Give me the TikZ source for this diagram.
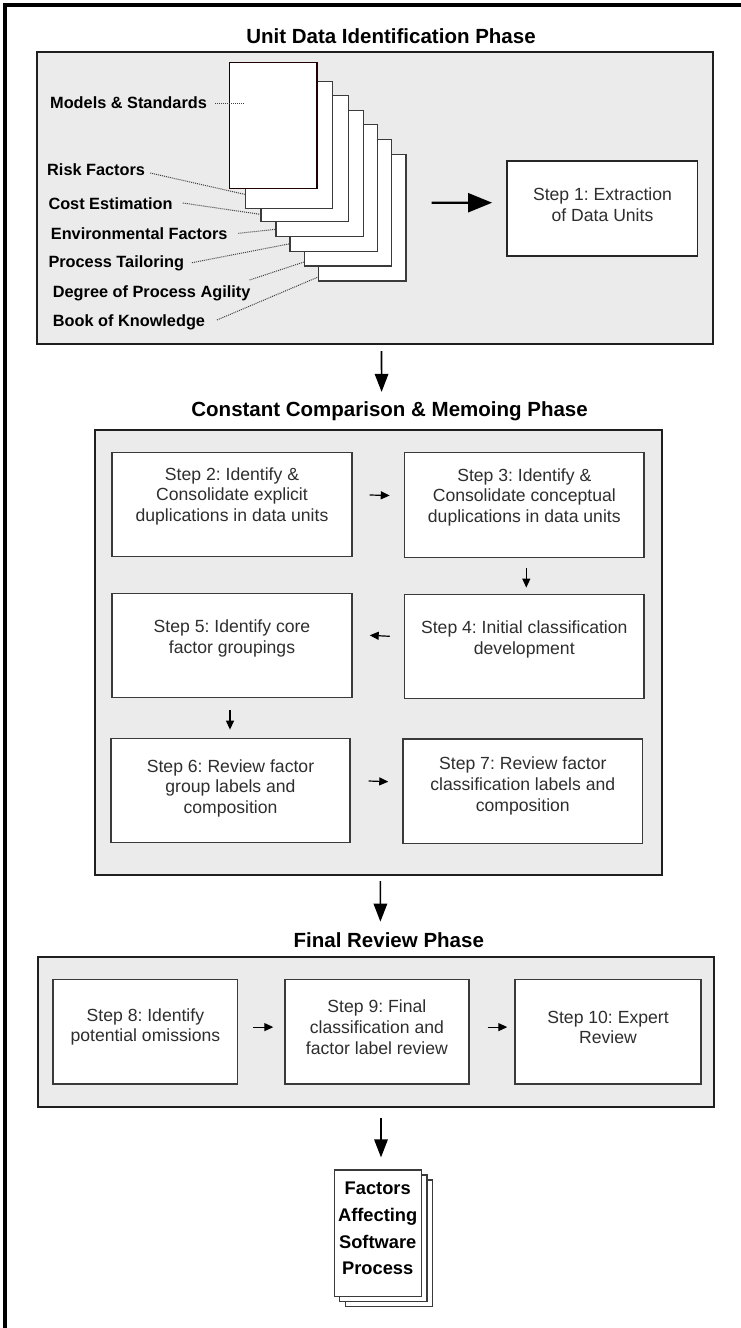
\documentclass[tikz,border=0pt]{standalone}
\usepackage{fontspec}
\setmainfont{Liberation Sans}
\usetikzlibrary{arrows.meta}
\definecolor{phasegray}{HTML}{EBEBEB}
\definecolor{boxline}{HTML}{3A3A3A}
\definecolor{steptext}{HTML}{2E2E2E}
\frenchspacing
\begin{document}
\begin{tikzpicture}[x=1pt,y=-1pt,
  phasebox/.style={draw=black!88, line width=2pt, fill=phasegray, inner sep=0pt},
  stepbox/.style={draw=boxline, line width=1.4pt, fill=white, inner sep=0pt},
  steptxt/.style={text=steptext, font=\fontsize{17.6}{20.8}\selectfont, align=center, inner sep=0pt},
  phasetitle/.style={font=\bfseries\fontsize{20.5}{24}\selectfont, inner sep=0pt},
  srclabel/.style={font=\bfseries\fontsize{16.3}{19}\selectfont, anchor=base west, inner sep=0pt},
  page/.style={draw=boxline, line width=1.2pt, fill=white, inner sep=0pt, minimum width=87.5pt, minimum height=126.5pt},
  leader/.style={draw=black!75, line width=1pt, densely dotted},
  bigarrow/.style={line width=1.6pt, -{Triangle[length=18pt,width=13.5pt]}},
  widearrow/.style={line width=2.2pt, -{Triangle[length=24pt,width=19pt]}},
  smallarrow/.style={line width=1.2pt, -{Triangle[length=9pt,width=8pt]}},
]
\useasboundingbox (0,0) rectangle (741,1328);
\fill[white] (0,0) rectangle (741,1328);
% outer frame (top and left edges)
\draw[line width=4pt] (5,1332) -- (5,4.7) -- (745,4.7);

% ---------- Phase 1 ----------
\node[phasetitle] (t1) at (391,36) {Unit Data Identification Phase};
\node[phasebox, minimum width=676pt, minimum height=292pt] (ph1) at (375,198) {};

% stacked pages (back to front)
\node[page] (p7) at (362.25,217.75) {};
\node[page] (p6) at (348,202.75) {};
\node[page] (p5) at (333.75,188) {};
\node[page] (p4) at (319.75,173.5) {};
\node[page] (p3) at (304.75,158.5) {};
\node[page] (p2) at (289,145) {};
\node[page, draw=black!80!red!60!black] (p1) at (273.25,125.5) {};

% source labels
\node[srclabel] (lm) at (50,108.7) {Models \& Standards};
\node[srclabel] (lr) at (47,175.7) {Risk Factors};
\node[srclabel] (lc) at (48.3,209) {Cost Estimation};
\node[srclabel] (le) at (50.7,239.7) {Environmental Factors};
\node[srclabel] (lp) at (48.3,267.2) {Process Tailoring};
\node[srclabel] (ld) at (52.7,297.7) {Degree of Process Agility};
\node[srclabel] (lb) at (52.7,326.7) {Book of Knowledge};

% leaders
\draw[leader] ([xshift=8pt,yshift=5.7pt]lm.base east) -- ([xshift=15.5pt,yshift=22.5pt]p1.west);
\draw[leader] ([xshift=5pt,yshift=2.7pt]lr.base east) -- ([yshift=14.5pt]p2.south west);
\draw[leader] ([xshift=10pt,yshift=6pt]lc.base east) -- ([yshift=8pt]p3.south west);
\draw[leader] ([xshift=10.7pt,yshift=6.4pt]le.base east) -- ([yshift=8pt]p4.south west);
\draw[leader] ([xshift=7.7pt,yshift=4.5pt]lp.base east) -- ([yshift=8pt]p5.south west);
\draw[leader] ([xshift=-1pt,yshift=17.7pt]ld.base east) -- ([yshift=4.5pt]p6.south west);
\draw[leader] ([xshift=11.7pt,yshift=6.7pt]lb.base east) -- ([yshift=4.5pt]p7.south west);

% step 1
\node[stepbox, draw=black!85, line width=1.8pt, minimum width=190.5pt, minimum height=95.3pt] (s1) at (602.25,208.35) {};
\node[steptxt] (s1t) at (602.5,205) {Step 1: Extraction\\of Data Units};
\draw[widearrow] ([xshift=25pt,yshift=15pt]p7.east) -- ([xshift=-14pt,yshift=5.65pt]s1.west);

% ---------- Phase 2 ----------
\node[phasetitle] (t2) at (389.6,411.7) {Constant Comparison \& Memoing Phase};
\node[phasebox, minimum width=567.5pt, minimum height=445pt] (ph2) at (378.7,652.5) {};
\draw[bigarrow] ([xshift=6.5pt,yshift=-6pt]ph1.south) -- ([xshift=-8pt,yshift=10pt]t2.north);

\node[stepbox, minimum width=240pt, minimum height=104.5pt] (s2) at (232,504.5) {};
\node[stepbox, minimum width=239.7pt, minimum height=104.6pt] (s3) at (524.3,505) {};
\node[stepbox, minimum width=240pt, minimum height=104pt] (s5) at (232,645.3) {};
\node[stepbox, minimum width=239.7pt, minimum height=104pt] (s4) at (524.3,646.3) {};
\node[stepbox, minimum width=239pt, minimum height=104.4pt] (s6) at (230.5,790.5) {};
\node[stepbox, minimum width=239.7pt, minimum height=104.3pt] (s7) at (522.8,791.2) {};

\node[steptxt] (s2t) at (232,496.3) {Step 2: Identify \&\\Consolidate explicit\\duplications in data units};
\node[steptxt] (s3t) at (524.3,497.3) {Step 3: Identify \&\\Consolidate conceptual\\duplications in data units};
\node[steptxt] (s5t) at (232,638.8) {Step 5: Identify core\\factor groupings};
\node[steptxt] (s4t) at (524.3,639.7) {Step 4: Initial classification\\development};
\node[steptxt] (s6t) at (230.5,788.3) {Step 6: Review factor\\group labels and\\composition};
\node[steptxt] (s7t) at (522.8,786) {Step 7: Review factor\\classification labels and\\composition};

\draw[smallarrow] ([xshift=17pt,yshift=9.5pt]s2.east) -- ([xshift=-14pt,yshift=9.5pt]s3.west);
\draw[smallarrow] ([xshift=2pt,yshift=-10pt]s3.south) -- ([xshift=2pt,yshift=6pt]s4.north);
\draw[smallarrow] ([xshift=-14pt,yshift=10pt]s4.west) -- ([xshift=17pt,yshift=10pt]s5.east);
\draw[smallarrow] ([xshift=-2pt,yshift=-12pt]s5.south) -- ([xshift=-0.5pt,yshift=8pt]s6.north);
\draw[smallarrow] ([xshift=18pt,yshift=9.5pt]s6.east) -- ([xshift=-14pt,yshift=9.5pt]s7.west);

% ---------- Phase 3 ----------
\node[phasetitle] (t3) at (388.8,940) {Final Review Phase};
\node[phasebox, minimum width=675.7pt, minimum height=150pt] (ph3) at (375.7,1032) {};
\draw[bigarrow] ([xshift=1.7pt,yshift=-5pt]ph2.south) -- ([xshift=-8.4pt,yshift=10.6pt]t3.north);

\node[stepbox, minimum width=184.7pt, minimum height=104.7pt] (s8) at (145.4,1031.6) {};
\node[stepbox, minimum width=183.8pt, minimum height=104.7pt] (s9) at (376.9,1031.6) {};
\node[stepbox, minimum width=186pt, minimum height=104.7pt] (s10) at (608,1031.6) {};
\node[steptxt] (s8t) at (145.4,1027) {Step 8: Identify\\potential omissions};
\node[steptxt] (s9t) at (376.9,1027) {Step 9: Final\\classification and\\factor label review};
\node[steptxt] (s10t) at (608,1027.5) {Step 10: Expert\\Review};

\draw[smallarrow] ([xshift=15pt,yshift=4.5pt]s8.east) -- ([xshift=-11pt,yshift=4.5pt]s9.west);
\draw[smallarrow] ([xshift=18pt,yshift=4.5pt]s9.east) -- ([xshift=-7pt,yshift=4.5pt]s10.west);

% ---------- Output document ----------
\node[page, minimum width=87.4pt, minimum height=126.7pt] (d3) at (389,1243.35) {};
\node[page, minimum width=87.4pt, minimum height=126.7pt] (d2) at (383.35,1238.35) {};
\node[page, minimum width=87.4pt, minimum height=126.7pt] (d1) at (378,1233.35) {};
\node[font=\bfseries\fontsize{18.3}{26.7}\selectfont, align=center, inner sep=0pt] (d1t) at (377.7,1228.5) {Factors\\Affecting\\Software\\Process};
\draw[bigarrow] ([xshift=5.3pt,yshift=-10pt]ph3.south) -- ([xshift=3pt,yshift=12pt]d1.north);
\end{tikzpicture}
\end{document}
